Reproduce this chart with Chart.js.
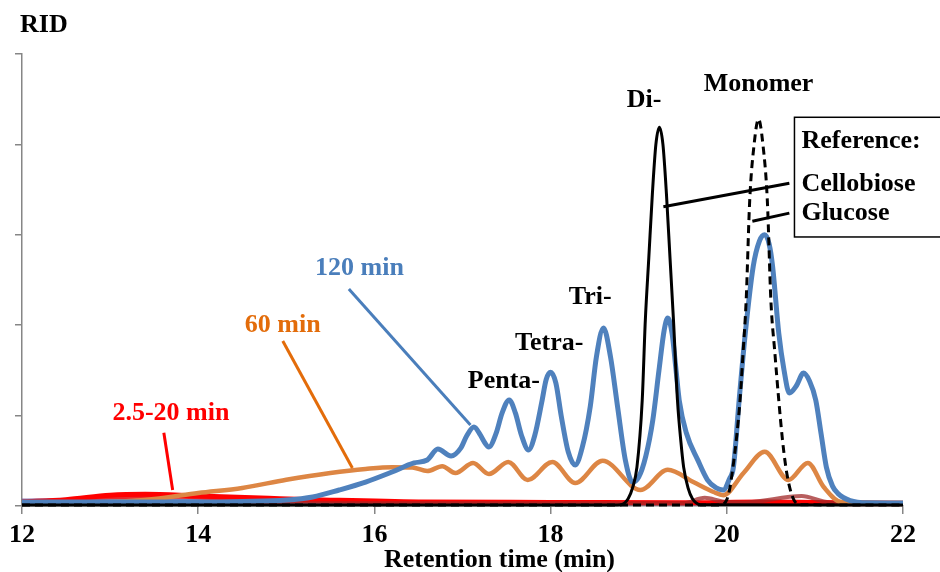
<!DOCTYPE html>
<html>
<head>
<meta charset="utf-8">
<script src="https://cdn.jsdelivr.net/npm/chart.js@4.4.1/dist/chart.umd.min.js"></script>
<style>
  html, body { margin: 0; padding: 0; background: #ffffff; }
  #wrap { width: 940px; height: 572px; }
</style>
</head>
<body>
<div id="wrap"><canvas id="c" width="940" height="572"></canvas></div>
<script>
// Retention times (min) and RID signal (arbitrary units) for each trace
const xTicks = [12, 14, 16, 18, 20, 22];

const cellobioseTime = [12.0, 18.7, 18.8, 18.88, 18.93, 18.98, 19.04, 19.075, 19.115, 19.155, 19.195, 19.235, 19.275, 19.315, 19.355, 19.395, 19.44, 19.48, 19.51, 19.56, 19.61, 19.7, 22.0];
const cellobioseRID  = [0.01, 0.01, 0.015, 0.08, 0.2, 0.43, 1.17, 2.05, 2.75, 3.45, 4.0, 4.19, 4.0, 3.45, 2.75, 2.05, 1.17, 0.7, 0.43, 0.2, 0.08, 0.015, 0.01];

const glucoseTime = [12.0, 19.9, 19.95, 20.0, 20.035, 20.07, 20.11, 20.15, 20.185, 20.22, 20.26, 20.31, 20.36, 20.41, 20.46, 20.5, 20.545, 20.59, 20.63, 20.67, 20.715, 20.76, 20.82, 22.0];
const glucoseRID  = [0.01, 0.01, 0.015, 0.07, 0.2, 0.43, 0.75, 1.17, 1.7, 2.28, 3.38, 4.0, 4.28, 4.0, 3.38, 2.28, 1.7, 1.17, 0.75, 0.43, 0.2, 0.07, 0.015, 0.01];

const min120Time = [12.0, 13.0, 14.0, 14.5, 15.0, 15.3, 15.6, 15.9, 16.2, 16.45, 16.6, 16.72, 16.87, 16.98, 17.05, 17.13, 17.2, 17.24, 17.3, 17.38, 17.45, 17.53, 17.6, 17.67, 17.75, 17.82, 17.9, 17.95, 18.0, 18.06, 18.12, 18.2, 18.28, 18.36, 18.45, 18.52, 18.6, 18.68, 18.76, 18.85, 18.93, 19.0, 19.08, 19.16, 19.23, 19.29, 19.33, 19.38, 19.42, 19.46, 19.54, 19.67, 19.78, 19.88, 19.96, 20.03, 20.075, 20.14, 20.21, 20.30, 20.37, 20.43, 20.48, 20.52, 20.59, 20.65, 20.71, 20.79, 20.87, 20.94, 21.01, 21.07, 21.13, 21.2, 21.26, 21.4, 21.6, 22.0];
const min120RID  = [0.044, 0.044, 0.044, 0.05, 0.066, 0.1, 0.177, 0.265, 0.376, 0.476, 0.509, 0.63, 0.553, 0.64, 0.78, 0.874, 0.79, 0.72, 0.653, 0.8, 1.03, 1.173, 1.03, 0.78, 0.62, 0.78, 1.15, 1.4, 1.48, 1.36, 1.0, 0.6, 0.454, 0.65, 1.1, 1.65, 1.97, 1.65, 1.1, 0.5, 0.265, 0.32, 0.55, 0.95, 1.5, 1.95, 2.08, 1.9, 1.54, 1.17, 0.81, 0.51, 0.29, 0.2, 0.177, 0.3, 0.43, 1.17, 1.91, 2.65, 2.93, 3.0, 2.9, 2.65, 1.91, 1.5, 1.25, 1.33, 1.47, 1.38, 1.17, 0.8, 0.43, 0.22, 0.14, 0.06, 0.035, 0.033];

const min60Time = [12.0, 13.0, 13.5, 14.0, 14.5, 15.0, 15.5, 15.9, 16.2, 16.43, 16.6, 16.77, 16.92, 17.12, 17.3, 17.52, 17.74, 18.02, 18.28, 18.59, 19.02, 19.33, 19.62, 19.85, 19.96, 20.19, 20.43, 20.7, 20.92, 21.1, 21.3, 22.0];
const min60RID  = [0.03, 0.044, 0.077, 0.144, 0.2, 0.29, 0.365, 0.41, 0.43, 0.426, 0.387, 0.44, 0.365, 0.476, 0.354, 0.487, 0.288, 0.487, 0.254, 0.5, 0.177, 0.4, 0.265, 0.155, 0.12, 0.365, 0.6, 0.288, 0.476, 0.21, 0.044, 0.033];

const earlyATime = [12.0, 12.5, 13.0, 13.4, 14.0, 14.8, 15.5, 16.5, 18.0, 19.5, 20.4, 21.0, 22.0];
const earlyARID  = [0.045, 0.07, 0.12, 0.13, 0.11, 0.085, 0.065, 0.045, 0.04, 0.035, 0.045, 0.04, 0.03];

const earlyBTime = [12.0, 13.0, 13.6, 14.5, 16.0, 19.0, 22.0];
const earlyBRID  = [0.05, 0.09, 0.1, 0.07, 0.04, 0.03, 0.025];

const earlyCTime = [12.0, 19.5, 19.75, 19.95, 20.2, 20.85, 21.1, 21.4, 22.0];
const earlyCRID  = [0.03, 0.03, 0.09, 0.05, 0.04, 0.11, 0.05, 0.02, 0.02];

const earlyDTime = [12.0, 13.0, 14.0, 15.0, 22.0];
const earlyDRID  = [0.065, 0.08, 0.06, 0.03, 0.02];

function pts(t, v) { return t.map((x, i) => ({ x: x, y: v[i] })); }

const SERIF = "'Liberation Serif', 'Times New Roman', serif";

function line(label, t, v, color, width, extra) {
  return Object.assign({
    label: label,
    data: pts(t, v),
    borderColor: color,
    borderWidth: width,
    pointRadius: 0,
    fill: false,
    cubicInterpolationMode: 'monotone',
    clip: false
  }, extra || {});
}

// Labels, pointer lines and the reference box, placed in data coordinates
const annotations = {
  id: 'annotations',
  afterDraw(chart) {
    const ctx = chart.ctx;
    const xs = chart.scales.x, ys = chart.scales.y;
    const X = v => xs.getPixelForValue(v);
    const Y = v => ys.getPixelForValue(v);
    ctx.save();

    const seg = (x1, y1, x2, y2, color, w) => {
      ctx.beginPath();
      ctx.strokeStyle = color;
      ctx.lineWidth = w;
      ctx.moveTo(X(x1), Y(y1));
      ctx.lineTo(X(x2), Y(y2));
      ctx.stroke();
    };
    const txt = (s, x, y, color, align) => {
      ctx.fillStyle = color;
      ctx.font = 'bold 26px ' + SERIF;
      ctx.textAlign = align || 'center';
      ctx.textBaseline = 'middle';
      ctx.fillText(s, X(x), Y(y));
    };

    // pointer lines
    seg(19.28, 3.31, 20.71, 3.57, '#000000', 3);
    seg(20.29, 3.15, 20.71, 3.24, '#000000', 3);
    seg(15.71, 2.40, 17.09, 0.896, '#4a7ebb', 3);
    seg(14.96, 1.825, 15.75, 0.42, '#e36c0a', 3);
    seg(13.61, 0.81, 13.71, 0.177, '#ff0000', 3);

    // reference box (runs past the right edge of the canvas)
    ctx.strokeStyle = '#000000';
    ctx.lineWidth = 1.5;
    const bx1 = X(20.768), bx2 = X(22.6), by1 = Y(4.30), by2 = Y(2.976);
    ctx.strokeRect(bx1, by1, bx2 - bx1, by2 - by1);

    txt('Reference:', 20.847, 4.03, '#000000', 'left');
    txt('Cellobiose', 20.847, 3.56, '#000000', 'left');
    txt('Glucose', 20.847, 3.24, '#000000', 'left');

    txt('Di-', 19.06, 4.49, '#000000');
    txt('Monomer', 20.36, 4.66, '#000000');
    txt('Tri-', 18.45, 2.31, '#000000');
    txt('Tetra-', 17.985, 1.80, '#000000');
    txt('Penta-', 17.47, 1.38, '#000000');
    txt('120 min', 15.83, 2.63, '#4a7ebb');
    txt('60 min', 14.96, 2.0, '#e36c0a');
    txt('2.5-20 min', 13.69, 1.03, '#ff0000');

    // axis captions
    ctx.fillStyle = '#000000';
    ctx.font = 'bold 26px ' + SERIF;
    ctx.textAlign = 'left';
    ctx.textBaseline = 'middle';
    ctx.fillText('RID', 20, 25);
    ctx.textAlign = 'center';
    ctx.textBaseline = 'alphabetic';
    ctx.fillText('Retention time (min)', X(17.42), 567);

    ctx.restore();
  }
};

new Chart(document.getElementById('c'), {
  type: 'line',
  data: {
    datasets: [
      line('Glucose', glucoseTime, glucoseRID, '#000000', 3, { borderDash: [8, 5] }),
      line('Cellobiose', cellobioseTime, cellobioseRID, '#000000', 3),
      line('120 min', min120Time, min120RID, '#4f81bd', 5),
      line('60 min', min60Time, min60RID, '#dd8644', 4.5),
      line('20 min', earlyCTime, earlyCRID, 'rgba(160,40,40,0.75)', 4),
      line('2.5 min', earlyATime, earlyARID, '#ff0000', 5),
      line('5 min', earlyBTime, earlyBRID, '#e8282a', 3),
      line('10 min', earlyDTime, earlyDRID, 'rgba(120,90,160,0.8)', 3)
    ]
  },
  options: {
    responsive: false,
    animation: false,
    devicePixelRatio: 1,
    layout: { padding: { left: 0, top: 54, right: 37, bottom: 0 } },
    plugins: { legend: { display: false }, tooltip: { enabled: false }, title: { display: false } },
    scales: {
      x: {
        type: 'linear',
        min: 12,
        max: 22,
        afterBuildTicks: s => { s.ticks = xTicks.map(v => ({ value: v })); },
        ticks: {
          color: '#000000',
          font: { family: SERIF, size: 26, weight: 'bold' },
          padding: 6,
          maxRotation: 0
        },
        grid: { drawOnChartArea: false, drawTicks: true, tickLength: 8, color: '#868686', lineWidth: 1.5 },
        border: { display: true, color: '#868686', width: 1.5 },
        afterFit: s => { s.height = 66; }
      },
      y: {
        min: 0,
        max: 5,
        ticks: { display: false, stepSize: 1 },
        grid: { drawOnChartArea: false, drawTicks: true, tickLength: 7, color: '#868686', lineWidth: 1.5 },
        border: { display: true, color: '#868686', width: 1.5 },
        afterFit: s => { s.width = 22; }
      }
    }
  },
  plugins: [annotations]
});
</script>
</body>
</html>
